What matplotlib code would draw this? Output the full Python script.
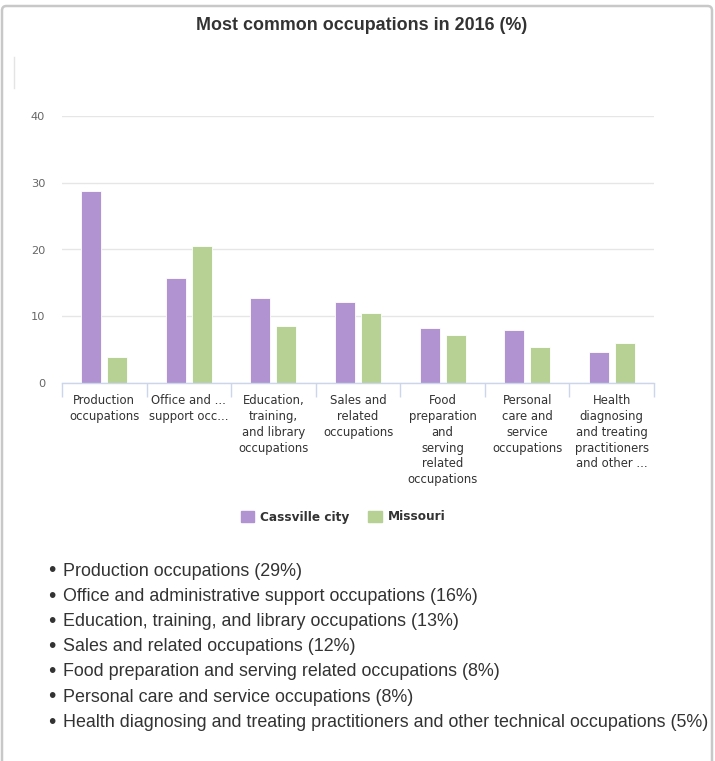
import matplotlib
matplotlib.use("Agg")
import matplotlib.pyplot as plt
import numpy as np
from matplotlib.patches import FancyBboxPatch, Rectangle
from matplotlib.lines import Line2D

categories = [
    "Production\noccupations",
    "Office and ...\nsupport occ...",
    "Education,\ntraining,\nand library\noccupations",
    "Sales and\nrelated\noccupations",
    "Food\npreparation\nand\nserving\nrelated\noccupations",
    "Personal\ncare and\nservice\noccupations",
    "Health\ndiagnosing\nand treating\npractitioners\nand other ...",
]
cassville = [28.7, 15.7, 12.7, 12.2, 8.2, 7.9, 4.7]
missouri = [4.0, 20.5, 8.5, 10.5, 7.2, 5.5, 6.0]
series_names = ["Cassville city", "Missouri"]
yticks = [0, 10, 20, 30, 40]
list_items = [
    "Production occupations (29%)",
    "Office and administrative support occupations (16%)",
    "Education, training, and library occupations (13%)",
    "Sales and related occupations (12%)",
    "Food preparation and serving related occupations (8%)",
    "Personal care and service occupations (8%)",
    "Health diagnosing and treating practitioners and other technical occupations (5%)",
]
title = "Most common occupations in 2016 (%)"

PURPLE = "#b093d0"
GREEN = "#b7d093"

W, H = 715, 761
fig = plt.figure(figsize=(W / 100, H / 100), dpi=100)
fig.patch.set_facecolor("white")

def fx(px):
    return px / W

def fy(py):
    return 1 - py / H

# outer frame
frame = FancyBboxPatch((fx(2), fy(800)), fx(710), (800 - 6) / H,
                       boxstyle="round,pad=0,rounding_size=0.006",
                       transform=fig.transFigure, facecolor="none",
                       edgecolor="#c8c8c8", lw=1.8, zorder=-1)
fig.patches.append(frame)
fig.lines.append(Line2D([fx(14), fx(14)], [fy(57), fy(88)], transform=fig.transFigure,
                        color="#e4e4e4", lw=1))

fig.text(fx(362), fy(25), title, ha="center", va="center",
         fontsize=12.9, fontweight="bold", family="Liberation Sans", color="#333333")

ax_left, ax_right, ax_top, ax_bottom = 62, 654, 115.7, 383.3
ax = fig.add_axes([fx(ax_left), fy(ax_bottom), fx(ax_right - ax_left), (ax_bottom - ax_top) / H])
ax.set_facecolor("none")
ax.set_zorder(2)

x = np.arange(len(categories))
bw = 0.236
off = 0.154
ax.bar(x - off, cassville, width=bw, color=PURPLE, edgecolor="white", lw=0.6, zorder=3)
ax.bar(x + off, missouri, width=bw, color=GREEN, edgecolor="white", lw=0.6, zorder=3)

ax.set_xlim(-0.5, len(categories) - 0.5)
ax.set_ylim(0, 40)
ax.set_yticks(yticks)
ax.set_yticklabels([str(v) for v in yticks], fontsize=8.2, family="DejaVu Sans", color="#666666")
ax.tick_params(axis="y", length=0, pad=12)
ax.yaxis.grid(True, color="#e6e6e6", lw=1)
ax.set_axisbelow(True)
for s in ["top", "right", "left"]:
    ax.spines[s].set_visible(False)
ax.spines["bottom"].set_color("#ccd6eb")
ax.spines["bottom"].set_linewidth(1)
ax.spines["bottom"].set_zorder(4)

ax.set_xticks(x)
ax.set_xticklabels(categories, fontsize=8.4, family="DejaVu Sans", color="#333333", linespacing=1.27)
ax.tick_params(axis="x", length=0, pad=8)
ax.set_xticks(np.arange(len(categories) + 1) - 0.5, minor=True)
ax.tick_params(axis="x", which="minor", length=10, color="#ccd6eb", width=1)
for lab in ax.get_xticklabels():
    lab.set_verticalalignment("top")

# legend
handles = [Rectangle((0, 0), 1, 1, color=PURPLE), Rectangle((0, 0), 1, 1, color=GREEN)]
leg = fig.legend(handles, series_names, loc="center", bbox_to_anchor=(fx(343), fy(517)),
                 ncol=2, frameon=False, handlelength=1.1, handleheight=1.1,
                 columnspacing=1.6, handletextpad=0.5,
                 prop={"family": "DejaVu Sans", "weight": "bold", "size": 8.7})
for t in leg.get_texts():
    t.set_color("#333333")

# bullet list
base0 = 575.7
dy = 25.2
for i, item in enumerate(list_items):
    yb = base0 + i * dy
    fig.text(fx(51.5), fy(yb - 4.7), "\u2022", ha="center", va="center", fontsize=15,
             family="Liberation Sans", color="#333333")
    fig.text(fx(63), fy(yb), item, ha="left", va="baseline", fontsize=12.85,
             family="Liberation Sans", color="#333333")

fig.savefig("out.png", dpi=100)
